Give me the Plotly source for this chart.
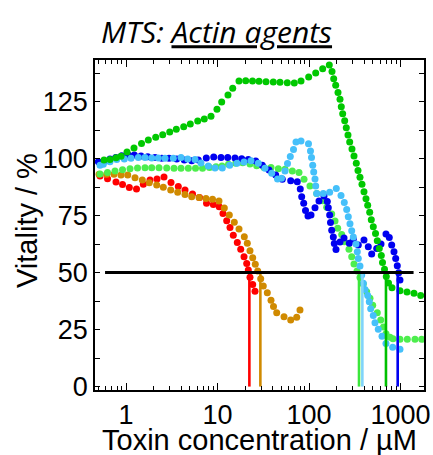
import plotly.graph_objects as go

# Concentration (µM) and vitality (%) for each actin agent, MTS assay
red_conc = [0.520, 0.628, 0.777, 0.916, 1.087, 1.302, 1.546, 1.829, 2.182, 2.602,
            3.103, 3.729, 4.413, 5.331, 6.359, 7.583, 8.999, 10.44, 11.48, 12.60,
            13.70, 14.88, 16.46, 17.93, 19.49, 20.85, 21.71, 22.65, 24.25, 25.69]
red_vit = [92.3, 91.1, 89.7, 88.6, 87.3, 86.6, 88.7, 90.6, 91.0, 91.9,
           89.5, 87.7, 86.2, 84.4, 82.9, 80.4, 79.8, 78.9, 75.9, 72.7,
           69.7, 66.4, 63.2, 60.2, 56.9, 54.0, 51.1, 47.9, 44.8, 41.8]

orange_conc = [0.507, 0.615, 0.739, 0.882, 1.044, 1.254, 1.507, 1.797, 2.165, 2.557,
               3.080, 3.673, 4.413, 5.224, 6.281, 7.488, 8.819, 10.38, 11.87, 13.46,
               15.26, 17.18, 19.63, 21.17, 22.65, 24.25, 25.89, 27.50, 29.66, 31.66,
               35.02, 38.43, 40.93, 44.36, 53.32, 63.10, 73.38, 79.71]
orange_vit = [93.1, 93.1, 93.1, 92.8, 92.8, 91.6, 90.6, 89.4, 88.4, 87.4,
              86.2, 85.2, 84.2, 83.2, 82.9, 82.5, 82.1, 81.4, 78.3, 75.2,
              72.1, 69.1, 65.7, 62.8, 59.6, 56.5, 53.6, 50.7, 47.3, 44.1,
              41.1, 37.9, 35.1, 32.4, 30.6, 29.2, 30.4, 33.6]

lgreen_conc = [0.520, 0.628, 0.758, 0.916, 1.106, 1.336, 1.613, 1.909, 2.294, 2.785,
               3.346, 3.991, 4.797, 5.749, 6.857, 8.177, 9.63, 11.20, 13.19, 15.81,
               18.86, 22.65, 26.82, 32.22, 38.43, 46.19, 54.68, 65.70, 77.74, 88.21,
               102.5, 121.4, 141.1, 156.1, 177.1, 192.4, 205.9, 227.8, 243.1, 273.6,
               292.9, 310.4, 334.7, 360.9, 392.2, 427.2, 464.2, 496.9, 557.9, 607.7,
               651.9, 694.2, 767.8, 827.9, 987.4, 1187, 1440, 1705]
lgreen_vit = [93.2, 93.9, 94.5, 95.1, 95.5, 95.8, 96.0, 96.0, 95.9, 95.8,
              95.7, 95.7, 95.7, 95.7, 95.7, 96.1, 96.4, 96.7, 97.5, 97.9,
              98.2, 97.6, 96.8, 96.1, 96.1, 95.5, 95.3, 94.5, 93.9, 90.9,
              87.9, 84.7, 81.5, 78.6, 75.7, 72.6, 69.4, 66.7, 63.5, 60.2,
              56.9, 53.7, 50.7, 47.8, 45.0, 41.6, 38.7, 35.7, 32.4, 29.2,
              26.1, 23.2, 21.6, 21.0, 20.8, 20.7, 20.7, 20.7]

blue_conc = [0.498, 0.579, 0.668, 0.772, 0.897, 1.060, 1.232, 1.458, 1.726, 2.075,
             2.456, 2.951, 3.582, 4.337, 5.224, 6.168, 7.545, 9.09, 10.92, 12.93,
             15.54, 18.39, 21.71, 26.16, 30.87, 36.54, 43.26, 51.07, 63.1, 74.5,
             80.3, 83.2, 87.5, 91.6, 97.5, 105.2, 116.3, 128.6, 145.9, 158.5,
             162.5, 168.3, 171.8, 177.1, 184.4, 189.1, 197.3, 218.2, 241.3, 275.7,
             304.9, 345.9, 399.1, 444.7, 484.4, 549.5, 612.3, 694.2, 754.5, 801.3,
             849.2, 886.2, 922.6, 955.6, 987.4]
blue_vit = [98.6, 99.0, 99.8, 100.5, 101.2, 101.5, 101.5, 101.1, 100.8, 100.5,
            100.1, 100.1, 99.8, 99.3, 99.0, 99.3, 100.2, 100.7, 100.5, 100.5,
            100.2, 99.9, 99.6, 98.9, 97.1, 95.0, 92.8, 90.9, 90.3, 89.8,
            86.6, 83.2, 80.4, 77.2, 74.8, 75.2, 78.4, 81.4, 83.6, 81.1,
            78.4, 75.2, 72.0, 68.6, 65.6, 62.7, 60.1, 63.4, 65.1, 62.8,
            64.6, 62.1, 64.3, 61.3, 58.1, 60.6, 62.5, 66.9, 65.4, 62.1,
            59.1, 56.2, 53.0, 49.9, 46.7]

lblue_conc = [0.520, 0.565, 0.668, 0.791, 0.958, 1.134, 1.363, 1.613, 1.909, 2.254,
              2.669, 3.288, 3.991, 4.724, 5.677, 6.601, 7.934, 9.39, 11.28, 13.59,
              16.33, 19.49, 23.23, 27.92, 33.04, 39.12, 45.27, 50.06, 54.68, 58.21,
              62.47, 67.71, 72.11, 81.77, 98.74, 103.8, 106.5, 109.8, 112.6, 116.3,
              118.4, 121.4, 143.3, 168.3, 198.8, 223.8, 243.1, 258.2, 268.9, 280.6,
              292.9, 304.9, 326.4, 337.3, 345.9, 360.9, 376.7, 392.2, 409.3, 438.0,
              456.0, 472.3, 504.3, 526.4, 571.9, 628.0, 694.2, 821.7, 987.4]
lblue_vit = [97.1, 97.5, 98.6, 99.6, 99.8, 100.1, 100.4, 100.4, 100.2, 100.2,
             100.1, 100.1, 100.4, 99.8, 99.6, 98.0, 96.7, 95.8, 95.8, 97.1,
             97.9, 98.5, 99.0, 97.9, 95.7, 93.5, 91.0, 91.4, 94.5, 97.8,
             100.9, 104.0, 107.2, 107.7, 106.5, 103.3, 100.4, 97.1, 94.1, 91.0,
             87.9, 84.7, 84.7, 85.2, 86.9, 83.8, 80.7, 77.7, 74.5, 71.4,
             68.3, 65.6, 62.5, 59.1, 56.2, 52.9, 48.9, 45.3, 42.6, 39.9,
             37.2, 34.1, 31.2, 28.0, 25.1, 22.1, 18.9, 17.2, 16.4]

dgreen_conc = [0.575, 0.668, 0.778, 0.882, 1.025, 1.223, 1.477, 1.753, 2.112, 2.518,
               3.003, 3.546, 4.272, 5.043, 6.076, 7.173, 8.49, 9.87, 11.11, 13.02,
               14.66, 17.18, 20.33, 24.13, 28.42, 33.89, 40.72, 48.2, 57.9, 69.1,
               81.8, 99.2, 118.4, 141.1, 166.7, 178.4, 186.2, 195.8, 207.5, 218.2,
               225.4, 233.5, 245.6, 255.6, 266.8, 278.5, 295.1, 310.4, 328.8, 343.2,
               360.9, 379.5, 399.1, 419.7, 438.0, 460.7, 479.6, 504.3, 533.3, 557.9,
               586.7, 617.0, 635.9, 668.7, 699.7, 739.6, 807.5, 987, 1178, 1404, 1663]
dgreen_vit = [99.3, 99.6, 100.3, 101.0, 102.9, 104.6, 106.6, 108.1, 109.3, 110.4,
              111.6, 112.8, 113.9, 115.1, 116.4, 117.3, 118.5, 121.6, 124.8, 127.9,
              130.8, 134.0, 134.1, 134.0, 133.9, 133.7, 133.6, 133.4, 133.2, 133.1,
              134.0, 135.7, 137.5, 139.4, 141.0, 138.2, 135.0, 132.1, 129.0, 126.0,
              122.7, 119.6, 116.6, 113.5, 110.3, 107.2, 104.2, 101.1, 97.9, 94.8,
              91.8, 88.7, 85.4, 82.4, 79.5, 76.4, 73.2, 70.1, 67.1, 63.9,
              60.6, 57.5, 54.4, 51.4, 48.3, 45.4, 43.3, 42.0, 41.5, 40.9, 39.9]

# IC50 concentrations (µM): red, orange, light green, light blue, dark green, blue
ic50_conc = [22.3, 29.4, 352, 383, 694, 932]
half_vitality = 50
half_line_span = [0.59, 1390]

series = [
    (red_conc, red_vit, "#FF0000"),
    (orange_conc, orange_vit, "#D08A00"),
    (lgreen_conc, lgreen_vit, "#4DEE4D"),
    (blue_conc, blue_vit, "#0000F0"),
    (lblue_conc, lblue_vit, "#45C0FA"),
    (dgreen_conc, dgreen_vit, "#00C800"),
]
ic50_colors = ["#FF0000", "#D08A00", "#3CE63C", "#7FD4FA", "#00C000", "#0000F0"]

fig = go.Figure()

for conc, vit, col in series:
    fig.add_trace(go.Scatter(x=conc, y=vit, mode="markers",
                             marker=dict(size=7, color=col, line=dict(width=0)),
                             showlegend=False, hoverinfo="skip"))

for c, col in zip(ic50_conc, ic50_colors):
    fig.add_trace(go.Scatter(x=[c, c], y=[0, half_vitality], mode="lines",
                             line=dict(color=col, width=2.6),
                             showlegend=False, hoverinfo="skip"))

fig.add_trace(go.Scatter(x=half_line_span, y=[half_vitality, half_vitality], mode="lines",
                         line=dict(color="black", width=3),
                         showlegend=False, hoverinfo="skip"))

minor_x = [m * 10 ** e for e in range(-1, 4) for m in range(2, 10)]

tick_font = dict(family="Liberation Sans, Arial, sans-serif", size=27, color="black")
title_font = dict(family="Liberation Sans, Arial, sans-serif", size=29, color="black")

fig.update_layout(
    width=433, height=455,
    margin=dict(l=95, r=9, t=60, b=65, autoexpand=False),
    paper_bgcolor="white", plot_bgcolor="white",
    title=dict(text="<i>MTS: <u>Actin agents</u></i>",
               x=0.5, xanchor="center", y=0.928, yanchor="middle",
               font=dict(family="Open Sans, sans-serif", size=30, color="black")),
    xaxis=dict(type="log", range=[-0.339, 3.257], automargin=False,
               tickvals=[1, 10, 100, 1000], ticktext=["1", "10", "100", "1000"],
               ticks="inside", ticklen=7, tickwidth=1.3, tickcolor="black",
               showline=True, linecolor="black", linewidth=1.5, mirror="ticks",
               showgrid=False, zeroline=False, tickfont=tick_font,
               minor=dict(tickvals=minor_x, ticks="inside", ticklen=4,
                          tickwidth=1.2, tickcolor="black", showgrid=False)),
    yaxis=dict(range=[-1.5, 143.2], automargin=False,
               tickvals=[0, 25, 50, 75, 100, 125],
               ticks="inside", ticklen=5, tickwidth=1.3, tickcolor="black",
               showline=True, linecolor="black", linewidth=1.5, mirror="ticks",
               showgrid=False, zeroline=False, tickfont=tick_font,
               minor=dict(dtick=12.5, tick0=0, ticks="inside", ticklen=5,
                          tickwidth=1.2, tickcolor="black", showgrid=False)),
    annotations=[
        dict(text="Toxin concentration / µM", xref="paper", yref="paper",
             x=0.5, y=-0.1515, xanchor="center", yanchor="middle", borderpad=0,
             showarrow=False, font=title_font),
        dict(text="Vitality / %", xref="paper", yref="paper",
             x=-0.207, y=0.515, xanchor="center", yanchor="middle", borderpad=0,
             textangle=-90, showarrow=False, font=title_font),
    ],
)

fig.write_html("out.html")
